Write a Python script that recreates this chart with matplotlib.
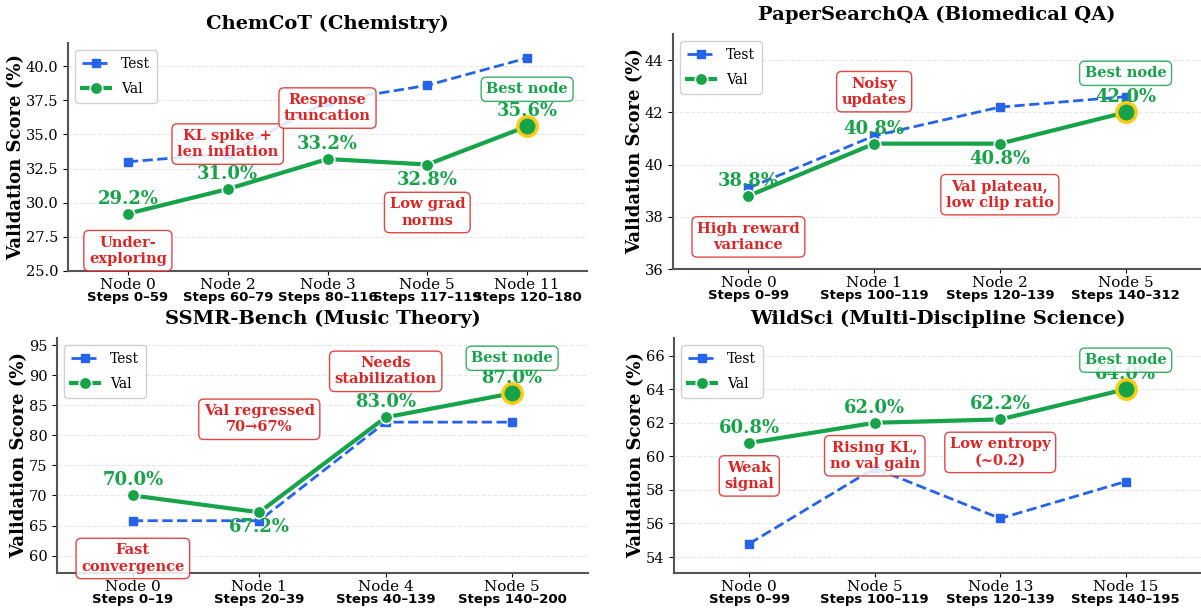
import numpy as np
import matplotlib
matplotlib.use('Agg')
from matplotlib import pyplot as plt

plt.rcParams['font.family'] = 'serif'
plt.rcParams['font.serif'] = ['DejaVu Serif']

BLUE = '#2563eb'
GREEN = '#16a34a'
RED = '#dc2626'
GOLD = '#facc15'

# ChemCoT
chem_nodes = ['Node 0', 'Node 2', 'Node 3', 'Node 5', 'Node 11']
chem_steps = ['Steps 0–59', 'Steps 60–79', 'Steps 80–116', 'Steps 117–119', 'Steps 120–180']
chem_val = [29.2, 31.0, 33.2, 32.8, 35.6]
chem_test = [33.0, 33.6, 37.4, 38.6, 40.6]
chem_notes = ['Under-\nexploring', 'KL spike +\nlen inflation', 'Response\ntruncation', 'Low grad\nnorms', 'Best node']

# PaperSearchQA
psqa_nodes = ['Node 0', 'Node 1', 'Node 2', 'Node 5']
psqa_steps = ['Steps 0–99', 'Steps 100–119', 'Steps 120–139', 'Steps 140–312']
psqa_val = [38.8, 40.8, 40.8, 42.0]
psqa_test = [39.1, 41.1, 42.2, 42.6]
psqa_notes = ['High reward\nvariance', 'Noisy\nupdates', 'Val plateau,\nlow clip ratio', 'Best node']

# SSMR-Bench
ssmr_nodes = ['Node 0', 'Node 1', 'Node 4', 'Node 5']
ssmr_steps = ['Steps 0–19', 'Steps 20–39', 'Steps 40–139', 'Steps 140–200']
ssmr_val = [70.0, 67.2, 83.0, 87.0]
ssmr_test = [65.8, 65.8, 82.2, 82.2]
ssmr_notes = ['Fast\nconvergence', 'Val regressed\n70→67%', 'Needs\nstabilization', 'Best node']

# WildSci
wild_nodes = ['Node 0', 'Node 5', 'Node 13', 'Node 15']
wild_steps = ['Steps 0–99', 'Steps 100–119', 'Steps 120–139', 'Steps 140–195']
wild_val = [60.8, 62.0, 62.2, 64.0]
wild_test = [54.8, 59.3, 56.3, 58.5]
wild_notes = ['Weak\nsignal', 'Rising KL,\nno val gain', 'Low entropy\n(~0.2)', 'Best node']

W, H = 1201, 610

def px_box(l, t, r, b):
	return [l / W, 1 - b / H, (r - l) / W, (b - t) / H]

# layout: axes box in px, ylim, label / note offsets in px (+ is up)
panels = [
	dict(title='ChemCoT (Chemistry)', nodes=chem_nodes, steps=chem_steps, val=chem_val, test=chem_test,
		 notes=chem_notes, box=px_box(68, 43, 587, 271), ylim=(25, 41.7),
		 lab_off=[15, 15, 15, -15, 15], note_off=[-37, 45, 51, -48, 37]),
	dict(title='PaperSearchQA (Biomedical QA)', nodes=psqa_nodes, steps=psqa_steps, val=psqa_val, test=psqa_test,
		 notes=psqa_notes, box=px_box(673, 34, 1201, 269), ylim=(36, 45),
		 lab_off=[15, 15, -15, 15], note_off=[-41, 52, -51, 39]),
	dict(title='SSMR-Bench (Music Theory)', nodes=ssmr_nodes, steps=ssmr_steps, val=ssmr_val, test=ssmr_test,
		 notes=ssmr_notes, box=px_box(57, 338, 588, 573), ylim=(57.1, 96.2),
		 lab_off=[15, -15, 15, 15], note_off=[-63, 93, 46, 35]),
	dict(title='WildSci (Multi-Discipline Science)', nodes=wild_nodes, steps=wild_steps, val=wild_val, test=wild_test,
		 notes=wild_notes, box=px_box(674, 338, 1201, 573), ylim=(53.05, 67.05),
		 lab_off=[15, 15, 15, 15], note_off=[-33, -33, -33, 29]),
]

fig = plt.figure(figsize=(12.01, 6.10), dpi=100)

PT = 0.72  # px -> points at dpi 100

for p in panels:
	ax = fig.add_axes(p['box'])
	x = np.arange(len(p['nodes']))
	ax.plot(x, p['test'], linestyle='--', color=BLUE, lw=2, marker='s', ms=6, label='Test', zorder=3)
	ax.plot(x, p['val'], linestyle='-', color=GREEN, lw=3, marker='o', ms=9,
			mec='white', mew=1.2, label='Val', zorder=4)
	best = int(np.argmax(p['val']))
	ax.plot(x[best], p['val'][best], 'o', ms=14, mfc=GREEN, mec=GOLD, mew=2.5, zorder=5)

	for i, v in enumerate(p['val']):
		ax.annotate(f'{v:.1f}%', xy=(x[i], v), xytext=(0, p['lab_off'][i] * PT), textcoords='offset points',
					ha='center', va='center', fontsize=13, fontweight='bold', color=GREEN, zorder=6)

	for i, note in enumerate(p['notes']):
		c = GREEN if i == best else RED
		ax.annotate(note, xy=(x[i], p['val'][i]), xytext=(0, p['note_off'][i] * PT), textcoords='offset points',
					ha='center', va='center', fontsize=10.5, fontweight='bold', color=c, linespacing=1.2,
					bbox=dict(boxstyle='round,pad=0.35', fc='white', ec=c, lw=1, alpha=0.85), zorder=7)

	ax.set_xticks(x)
	ax.set_xticklabels(p['nodes'], fontsize=11)
	for i, s in enumerate(p['steps']):
		ax.annotate(s, xy=(x[i], 0), xycoords=('data', 'axes fraction'), xytext=(0, -26 * PT),
					textcoords='offset points', ha='center', va='center', fontsize=9.5,
					fontweight='bold', family='DejaVu Sans')
	ax.tick_params(axis='x', length=3, pad=2)
	ax.tick_params(axis='y', labelsize=10.5)
	ax.set_xlim(-0.6, len(x) - 0.4)
	ax.set_ylim(*p['ylim'])
	ax.set_ylabel('Validation Score (%)', fontsize=13, fontweight='bold', labelpad=0)
	ax.set_title(p['title'], fontsize=14, fontweight='bold', pad=10)
	ax.grid(axis='y', linestyle='--', color='#dddddd', alpha=0.7)
	ax.spines['top'].set_visible(False)
	ax.spines['right'].set_visible(False)
	for sp in ('left', 'bottom'):
		ax.spines[sp].set_color('#555555')
		ax.spines[sp].set_linewidth(1.5)
	ax.legend(loc='upper left', fontsize=10, framealpha=0.9, labelspacing=0.8,
			  handlelength=2.0, borderpad=0.5)

plt.savefig('out.png', dpi=100)
